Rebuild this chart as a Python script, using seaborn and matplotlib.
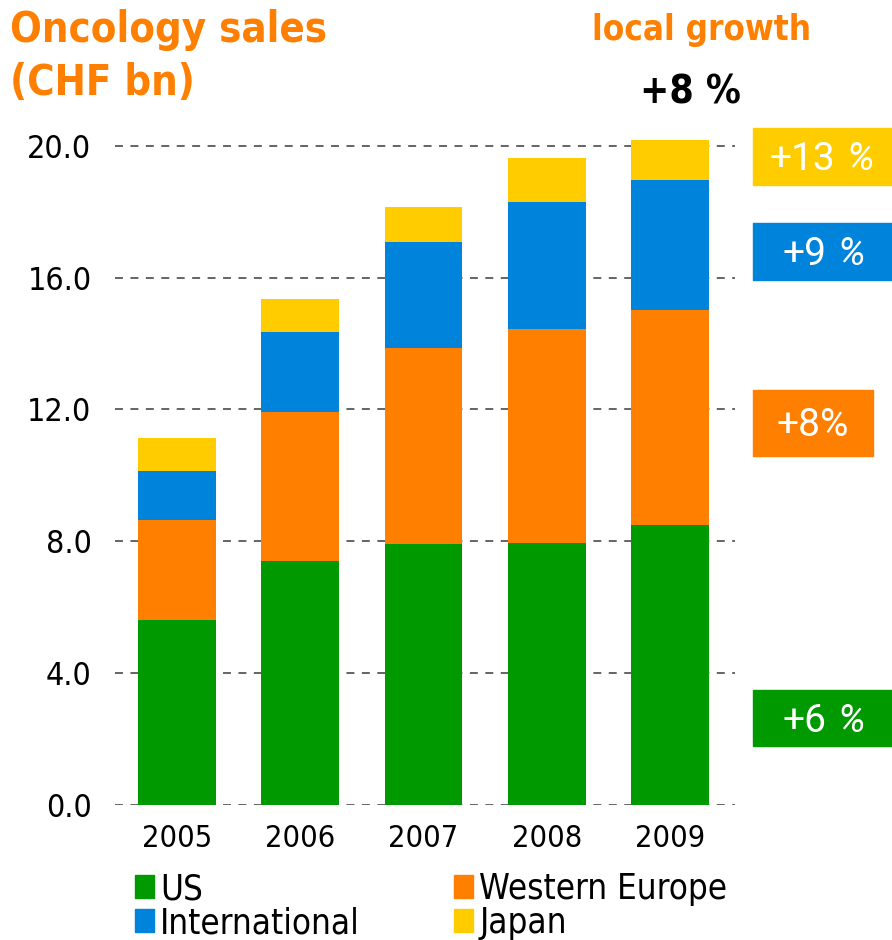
import numpy as np
import pandas as pd
import seaborn as sns
import matplotlib.pyplot as plt
from matplotlib.patches import Patch

years = ["2005", "2006", "2007", "2008", "2009"]
us = [5.61, 7.40, 7.92, 7.95, 8.49]
western_europe = [3.05, 4.52, 5.94, 6.50, 6.53]
international = [1.47, 2.43, 3.22, 3.84, 3.94]
japan = [1.00, 1.00, 1.06, 1.33, 1.21]

regions = ["US", "Western Europe", "International", "Japan"]
colors = {"US": "#009900", "Western Europe": "#FF7F00",
          "International": "#0083DB", "Japan": "#FFCC00"}
growth_num = {"Japan": "+13", "International": "+9",
              "Western Europe": "+8%", "US": "+6"}
total_growth = "+8 %"

sns.set_style("white")
plt.rcParams["font.family"] = ["DejaVu Sans"]
plt.rcParams["font.stretch"] = "condensed"
orange = "#FF8000"

# cumulative heights -> stacked look by drawing tallest first
df = pd.DataFrame({"year": years, "US": us, "Western Europe": western_europe,
                   "International": international, "Japan": japan})
cum = df[regions].cumsum(axis=1)
cum["year"] = years

fig = plt.figure(figsize=(8.92, 9.4), dpi=100)
ax = fig.add_axes([0.129, 0.1436, 0.695, 0.7364])

for y in np.arange(0, 21, 4):
    ax.axhline(y, color="#3a3a3a", lw=1.1, ls=(0, (5.2, 4.9)), zorder=0)

for r in reversed(regions):
    sns.barplot(data=cum, x="year", y=r, order=years, color=colors[r],
                saturation=1, width=0.63, linewidth=0, ax=ax, zorder=2)

ax.set_ylim(0, 21)
ax.set_xlim(-0.503, 4.527)
ax.set_yticks(np.arange(0, 21, 4))
ax.set_yticklabels([f"{v:.1f}" for v in np.arange(0, 21, 4)], fontsize=23)
ax.tick_params(axis="x", labelsize=22, pad=14, length=0, labelcolor="black")
ax.tick_params(axis="y", length=0, pad=17, labelcolor="black")
ax.set_xlabel("")
ax.set_ylabel("")
sns.despine(ax=ax, left=True, bottom=True)

# headings
fig.text(10 / 892, 1 - 42 / 940, "Oncology sales", color=orange,
         fontsize=30, fontweight="bold")
fig.text(10 / 892, 1 - 95 / 940, "(CHF bn)", color=orange,
         fontsize=30, fontweight="bold")
fig.text(592 / 892, 1 - 40 / 940, "local growth", color=orange,
         fontsize=25, fontweight="bold")
fig.text(640 / 892, 1 - 103 / 940, total_growth, color="black",
         fontsize=28, fontweight="bold")

# growth boxes on the right
boxes = {"Japan": (128, 185, 892, 835), "International": (223, 280, 892, 826),
         "Western Europe": (390, 456, 873, None), "US": (690, 746, 892, 826)}
for r, (top, bot, right, split) in boxes.items():
    x0, x1 = 753 / 892, right / 892
    y0, y1 = 1 - bot / 940, 1 - top / 940
    fig.patches.append(plt.Rectangle((x0, y0), x1 - x0, y1 - y0,
                                     transform=fig.transFigure,
                                     color=colors[r], zorder=1))
    yc = (y0 + y1) / 2 - 3 / 940
    font = dict(color="white", fontsize=28, va="center", family="Roboto",
                fontweight="normal", fontstretch="normal")
    if split is None:
        fig.text((x0 + x1) / 2, yc, growth_num[r], ha="center", **font)
    else:
        fig.text(split / 892, yc, growth_num[r], ha="right", **font)
        fig.text((split + 11) / 892, yc, "%", ha="left", style="italic", **font)

handles = [Patch(color=colors[r]) for r in ["US", "International", "Western Europe", "Japan"]]
labels = ["US", "International", "Western Europe", "Japan"]
leg = fig.legend(handles, labels, ncol=2, loc="upper left",
                 bbox_to_anchor=(135 / 892, 1 - 872 / 940), frameon=False,
                 fontsize=25, handlelength=0.55, handleheight=0.65,
                 handletextpad=0.17, columnspacing=2.72, labelspacing=0.0,
                 borderpad=0, borderaxespad=0)
for t in leg.get_texts():
    t.set_color("black")

fig.savefig("out.png", dpi=100)
